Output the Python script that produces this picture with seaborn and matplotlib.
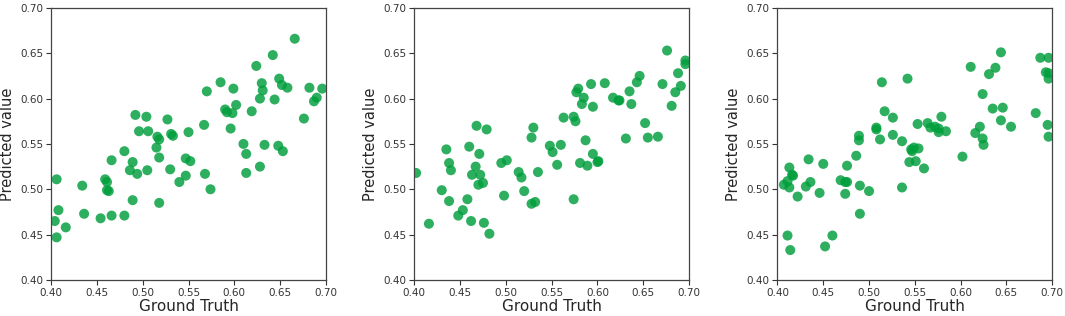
import matplotlib
matplotlib.use("Agg")
import matplotlib.pyplot as plt
import seaborn as sns
import pandas as pd

# values, one pair of arrays per panel
gt_1 = [0.492, 0.504, 0.527, 0.496, 0.506, 0.516, 0.518, 0.531, 0.533, 0.550,
        0.515, 0.480, 0.518, 0.466, 0.489, 0.547, 0.486, 0.494, 0.505, 0.530,
        0.547, 0.540, 0.406, 0.459, 0.461, 0.434, 0.461, 0.463, 0.489, 0.518,
        0.408, 0.436, 0.466, 0.480, 0.454, 0.404, 0.416, 0.406,
        0.666, 0.642, 0.624, 0.585, 0.570, 0.599, 0.630, 0.631, 0.628, 0.649,
        0.652, 0.658, 0.644, 0.682, 0.696, 0.690, 0.687, 0.602, 0.590, 0.592,
        0.598, 0.619, 0.676, 0.567, 0.596, 0.610, 0.633, 0.648, 0.653, 0.613,
        0.552, 0.568, 0.628, 0.613, 0.574]
pred_1 = [0.582, 0.580, 0.577, 0.564, 0.564, 0.558, 0.555, 0.561, 0.559, 0.563,
          0.546, 0.542, 0.535, 0.532, 0.530, 0.534, 0.521, 0.517, 0.521, 0.522,
          0.515, 0.508, 0.511, 0.511, 0.508, 0.504, 0.499, 0.498, 0.488, 0.485,
          0.477, 0.473, 0.471, 0.471, 0.468, 0.465, 0.458, 0.447,
          0.666, 0.648, 0.636, 0.618, 0.608, 0.611, 0.617, 0.609, 0.600, 0.622,
          0.615, 0.612, 0.599, 0.612, 0.611, 0.601, 0.597, 0.593, 0.588, 0.585,
          0.584, 0.586, 0.578, 0.571, 0.567, 0.550, 0.549, 0.548, 0.542, 0.539,
          0.531, 0.517, 0.525, 0.518, 0.500]

gt_2 = [0.468, 0.479, 0.530, 0.528, 0.548, 0.551, 0.435, 0.460, 0.471, 0.438,
        0.440, 0.467, 0.463, 0.472, 0.470, 0.475, 0.495, 0.501, 0.514, 0.517,
        0.535, 0.520, 0.498, 0.430, 0.438, 0.458, 0.528, 0.532, 0.453, 0.448,
        0.462, 0.476, 0.416, 0.482, 0.402,
        0.676, 0.696, 0.696, 0.688, 0.691, 0.685, 0.681, 0.671, 0.646, 0.643,
        0.635, 0.637, 0.608, 0.593, 0.579, 0.577, 0.585, 0.583, 0.595, 0.617,
        0.623, 0.624, 0.563, 0.574, 0.576, 0.652, 0.587, 0.631, 0.655, 0.666,
        0.560, 0.595, 0.600, 0.601, 0.581, 0.589, 0.556, 0.574]
pred_2 = [0.570, 0.566, 0.568, 0.557, 0.548, 0.541, 0.544, 0.547, 0.539, 0.529,
          0.521, 0.525, 0.516, 0.516, 0.505, 0.507, 0.529, 0.532, 0.519, 0.513,
          0.519, 0.498, 0.493, 0.499, 0.487, 0.489, 0.484, 0.486, 0.477, 0.471,
          0.465, 0.463, 0.462, 0.451, 0.518,
          0.653, 0.642, 0.638, 0.628, 0.614, 0.607, 0.592, 0.616, 0.625, 0.618,
          0.608, 0.594, 0.617, 0.616, 0.611, 0.607, 0.601, 0.594, 0.591, 0.601,
          0.598, 0.598, 0.579, 0.580, 0.575, 0.573, 0.554, 0.556, 0.557, 0.558,
          0.549, 0.539, 0.530, 0.531, 0.529, 0.526, 0.527, 0.489]

gt_3 = [0.542, 0.514, 0.517, 0.526, 0.508, 0.508, 0.526, 0.512, 0.489, 0.489,
        0.536, 0.546, 0.547, 0.486, 0.434, 0.450, 0.476, 0.413, 0.416, 0.417,
        0.411, 0.407, 0.413, 0.422, 0.431, 0.436, 0.446, 0.469, 0.474, 0.476,
        0.474, 0.490, 0.500, 0.536, 0.544, 0.490, 0.411, 0.460, 0.414, 0.452,
        0.644, 0.687, 0.696, 0.611, 0.638, 0.631, 0.693, 0.696, 0.696, 0.624,
        0.635, 0.646, 0.644, 0.655, 0.682, 0.695, 0.696, 0.621, 0.616, 0.624,
        0.625, 0.602, 0.553, 0.564, 0.567, 0.572, 0.576, 0.579, 0.576, 0.584,
        0.549, 0.554, 0.551, 0.560]
pred_3 = [0.622, 0.618, 0.586, 0.579, 0.568, 0.566, 0.560, 0.555, 0.559, 0.554,
          0.553, 0.544, 0.542, 0.537, 0.533, 0.528, 0.526, 0.524, 0.516, 0.515,
          0.509, 0.505, 0.502, 0.492, 0.503, 0.508, 0.496, 0.510, 0.508, 0.508,
          0.495, 0.504, 0.498, 0.502, 0.530, 0.473, 0.449, 0.449, 0.433, 0.437,
          0.651, 0.645, 0.645, 0.635, 0.634, 0.627, 0.629, 0.628, 0.622, 0.605,
          0.589, 0.590, 0.576, 0.569, 0.584, 0.571, 0.558, 0.569, 0.562, 0.556,
          0.549, 0.536, 0.572, 0.573, 0.568, 0.569, 0.567, 0.580, 0.563, 0.564,
          0.546, 0.545, 0.531, 0.523]

panels = [(gt_1, pred_1), (gt_2, pred_2), (gt_3, pred_3)]

sns.set_style("white")
plt.rcParams["font.family"] = ["DejaVu Sans"]

fig = plt.figure(figsize=(10.65, 3.16), dpi=100)
lefts = [0.048, 0.389, 0.730]

for i, (gt, pred) in enumerate(panels):
    ax = fig.add_axes([lefts[i], 0.114, 0.258, 0.861])
    df = pd.DataFrame({"Ground Truth": gt, "Predicted value": pred})
    sns.scatterplot(data=df, x="Ground Truth", y="Predicted value", ax=ax,
                    color="#009e3c", alpha=0.82, s=52, edgecolor="none")
    ax.set_xlim(0.40, 0.70)
    ax.set_ylim(0.40, 0.70)
    ax.set_xticks([0.40, 0.45, 0.50, 0.55, 0.60, 0.65, 0.70])
    ax.set_yticks([0.40, 0.45, 0.50, 0.55, 0.60, 0.65, 0.70])
    ax.tick_params(bottom=True, left=True, labelsize=7.5, length=3.5, width=0.8,
                   colors="#333333", pad=2)
    ax.set_xlabel("Ground Truth", fontsize=11, labelpad=1)
    ax.set_ylabel("Predicted value", fontsize=10.5, labelpad=4)
    for sp in ax.spines.values():
        sp.set_color("#444444")
        sp.set_linewidth(0.9)

fig.savefig("out.png", dpi=100)
